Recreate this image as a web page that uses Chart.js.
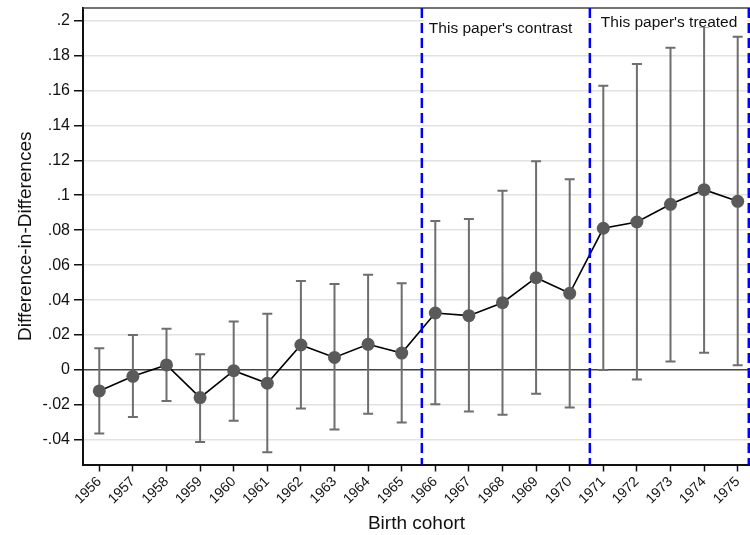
<!DOCTYPE html>
<html>
<head>
<meta charset="utf-8">
<script src="https://cdn.jsdelivr.net/npm/chart.js@4.4.1/dist/chart.umd.min.js"></script>
<style>
  body { margin: 0; background: #fff; }
  #wrap { width: 750px; height: 535px; }
</style>
</head>
<body>
<div id="wrap"><canvas id="didChart" width="750" height="535"></canvas></div>
<script>
// Estimates by birth cohort, with 95% bounds
var cohorts = [1956, 1957, 1958, 1959, 1960, 1961, 1962, 1963, 1964, 1965,
               1966, 1967, 1968, 1969, 1970, 1971, 1972, 1973, 1974, 1975];
var estimates = [-0.012, -0.0036, 0.0029, -0.0158, -0.0004, -0.0076, 0.0143, 0.0072, 0.0147, 0.0097,
                 0.0326, 0.0311, 0.0385, 0.0528, 0.0439, 0.0811, 0.0847, 0.0948, 0.1032, 0.0965];
var ciUpper = [0.0124, 0.0200, 0.0236, 0.0090, 0.0277, 0.0322, 0.0509, 0.0492, 0.0545, 0.0496,
               0.0853, 0.0864, 0.1026, 0.1194, 0.1091, 0.1627, 0.1751, 0.1844, 0.1965, 0.1907];
var ciLower = [-0.0364, -0.0269, -0.0177, -0.0412, -0.0290, -0.0471, -0.0221, -0.0341, -0.0250, -0.0300,
               -0.0196, -0.0238, -0.0256, -0.0136, -0.0214, 0.0000, -0.0055, 0.0048, 0.0099, 0.0027];
var yTicks = [-0.04, -0.02, 0, 0.02, 0.04, 0.06, 0.08, 0.1, 0.12, 0.14, 0.16, 0.18, 0.2];
var cutoffs = [1965.6, 1970.6, 1975.33];
var boxLabels = ["This paper's contrast", "This paper's treated"];

Chart.defaults.font.family = "'Liberation Sans', Arial, sans-serif";
Chart.defaults.color = '#111';

function fmtTick(v) {
    if (Math.abs(v) < 1e-9) return '0';
    var s = String(Math.round(v * 100) / 100);
    return s.replace('0.', '.');
}

// error bars, cohort cut-offs and the text boxes
var extras = {
    id: 'extras',
    beforeDatasetsDraw: function(chart) {
        var c = chart.ctx, xs = chart.scales.x, ys = chart.scales.y;
        c.save();
        c.strokeStyle = '#6e6e6e';
        c.lineWidth = 2;
        for (var i = 0; i < cohorts.length; i++) {
            var px = xs.getPixelForValue(cohorts[i]);
            var top = ys.getPixelForValue(ciUpper[i]);
            var bot = ys.getPixelForValue(ciLower[i]);
            c.beginPath();
            c.moveTo(px, top); c.lineTo(px, bot);
            c.moveTo(px - 5, top); c.lineTo(px + 5, top);
            c.moveTo(px - 5, bot); c.lineTo(px + 5, bot);
            c.stroke();
        }
        c.restore();
    },
    afterDatasetsDraw: function(chart) {
        var c = chart.ctx, xs = chart.scales.x, ys = chart.scales.y, a = chart.chartArea;
        c.save();
        // top frame line
        c.strokeStyle = '#444';
        c.lineWidth = 1.5;
        c.beginPath();
        c.moveTo(a.left, a.top); c.lineTo(a.right, a.top);
        c.stroke();

        // label boxes
        c.font = "15.5px 'Liberation Sans', Arial, sans-serif";
        c.textBaseline = 'alphabetic';
        var boxTops = [15, 9], boxBottoms = [39, 27], baselines = [33, 27], textOffsets = [7, 11];
        for (var k = 0; k < 2; k++) {
            var x0 = xs.getPixelForValue(cutoffs[k]) + 2;
            var x1 = xs.getPixelForValue(cutoffs[k + 1]) - 2;
            c.fillStyle = '#fff';
            c.fillRect(x0, boxTops[k], x1 - x0, boxBottoms[k] - boxTops[k]);
            c.fillStyle = '#111';
            c.fillText(boxLabels[k], x0 - 2 + textOffsets[k], baselines[k]);
        }

        // dashed cut-off lines
        c.strokeStyle = '#0000ff';
        c.lineWidth = 2.5;
        c.setLineDash([10, 5]);
        cutoffs.forEach(function(v) {
            var px = xs.getPixelForValue(v);
            c.beginPath();
            c.moveTo(px, a.top); c.lineTo(px, a.bottom);
            c.stroke();
        });
        c.restore();
    }
};

var ctx = document.getElementById('didChart').getContext('2d');
var didChart = new Chart(ctx, {
    type: 'line',
    data: {
        datasets: [{
            label: 'Difference-in-Differences',
            data: cohorts.map(function(c, i) { return { x: c, y: estimates[i] }; }),
            borderColor: '#000',
            borderWidth: 1.6,
            pointRadius: 6.5,
            pointBackgroundColor: '#5a5a5a',
            pointBorderColor: '#5a5a5a',
            pointBorderWidth: 0,
            tension: 0,
            clip: false
        }]
    },
    options: {
        responsive: false,
        animation: false,
        layout: { autoPadding: false, padding: { top: 8, right: 0, left: 0, bottom: 0 } },
        plugins: { legend: { display: false }, tooltip: { enabled: false } },
        scales: {
            x: {
                type: 'linear',
                min: 1955.515,
                max: 1975.366,
                afterBuildTicks: function(axis) {
                    axis.ticks = cohorts.map(function(v) { return { value: v }; });
                },
                afterFit: function(axis) {
                    axis.height = 70.5;
                    axis.paddingLeft = 0;
                    axis.paddingRight = 0;
                },
                ticks: {
                    autoSkip: false,
                    maxRotation: 45,
                    minRotation: 45,
                    padding: 2,
                    font: { size: 14 },
                    color: '#111',
                    callback: function(v) { return String(v); }
                },
                grid: {
                    drawOnChartArea: false,
                    drawTicks: true,
                    tickLength: 7,
                    tickColor: '#111',
                    tickWidth: 1.5
                },
                border: { color: '#111', width: 2 },
                title: {
                    display: true,
                    text: 'Birth cohort',
                    font: { size: 19 },
                    color: '#111',
                    padding: { top: 0, bottom: 0 }
                }
            },
            y: {
                min: -0.05408,
                max: 0.20715,
                afterBuildTicks: function(axis) {
                    axis.ticks = yTicks.map(function(v) { return { value: v }; });
                },
                afterFit: function(axis) {
                    axis.width = 83;
                    axis.paddingTop = 0;
                    axis.paddingBottom = 0;
                },
                ticks: {
                    padding: 4,
                    font: { size: 16 },
                    color: '#111',
                    callback: function(v) { return fmtTick(v); }
                },
                grid: {
                    color: function(c) { return c.tick && Math.abs(c.tick.value) < 1e-9 ? '#444' : '#e2e2e2'; },
                    lineWidth: 1.5,
                    tickLength: 9,
                    tickColor: '#111',
                    tickWidth: 1.5
                },
                border: { color: '#111', width: 2 },
                title: {
                    display: true,
                    text: 'Difference-in-Differences',
                    font: { size: 19 },
                    color: '#111',
                    padding: { top: 14, bottom: 0 }
                }
            }
        }
    },
    plugins: [extras]
});
</script>
</body>
</html>
